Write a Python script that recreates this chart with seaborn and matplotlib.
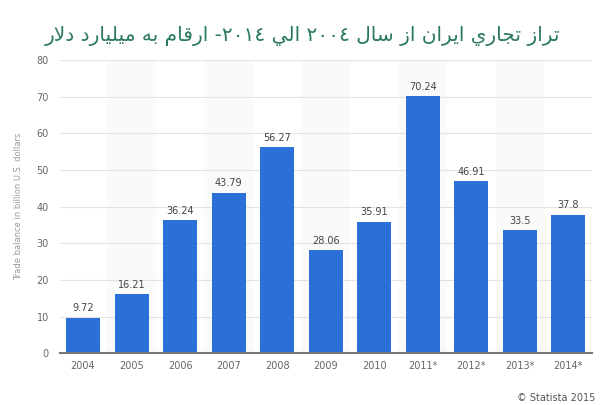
import matplotlib
matplotlib.use("Agg")
import matplotlib.pyplot as plt
import seaborn as sns
import pandas as pd

# data
years = ["2004", "2005", "2006", "2007", "2008", "2009", "2010",
         "2011*", "2012*", "2013*", "2014*"]
balance = [9.72, 16.21, 36.24, 43.79, 56.27, 28.06, 35.91,
           70.24, 46.91, 33.5, 37.8]
value_labels = ["9.72", "16.21", "36.24", "43.79", "56.27", "28.06", "35.91",
                "70.24", "46.91", "33.5", "37.8"]
y_ticks = [0, 10, 20, 30, 40, 50, 60, 70, 80]

title = "تراز تجاري ايران از سال ٢٠٠٤ الي ٢٠١٤- ارقام به ميليارد دلار"
y_label = "Trade balance in billion U.S. dollars"
source = "© Statista 2015"

# simple arabic shaping (matplotlib does no shaping / bidi)
# letter: (isolated, final, initial, medial)
FORMS = {
    "ا": ("\uFE8D", "\uFE8E", None, None),
    "ب": ("\uFE8F", "\uFE90", "\uFE91", "\uFE92"),
    "ت": ("\uFE95", "\uFE96", "\uFE97", "\uFE98"),
    "ج": ("\uFE9D", "\uFE9E", "\uFE9F", "\uFEA0"),
    "د": ("\uFEA9", "\uFEAA", None, None),
    "ر": ("\uFEAD", "\uFEAE", None, None),
    "ز": ("\uFEAF", "\uFEB0", None, None),
    "س": ("\uFEB1", "\uFEB2", "\uFEB3", "\uFEB4"),
    "ق": ("\uFED5", "\uFED6", "\uFED7", "\uFED8"),
    "ل": ("\uFEDD", "\uFEDE", "\uFEDF", "\uFEE0"),
    "م": ("\uFEE1", "\uFEE2", "\uFEE3", "\uFEE4"),
    "ن": ("\uFEE5", "\uFEE6", "\uFEE7", "\uFEE8"),
    "ه": ("\uFEE9", "\uFEEA", "\uFEEB", "\uFEEC"),
    "ي": ("\uFEF1", "\uFEF2", "\uFEF3", "\uFEF4"),
}


def shape_word(w):
    # lam-alef ligature
    chars = []
    i = 0
    while i < len(w):
        if w[i] == "ل" and i + 1 < len(w) and w[i + 1] == "ا":
            chars.append("LA")
            i += 2
        else:
            chars.append(w[i])
            i += 1

    def joins_left(c):
        if c == "LA":
            return False
        return c in FORMS and FORMS[c][2] is not None

    out = []
    for k, c in enumerate(chars):
        prev_joins = k > 0 and joins_left(chars[k - 1])
        if c == "LA":
            out.append("\uFEFC" if prev_joins else "\uFEFB")
            continue
        if c not in FORMS:
            out.append(c)
            continue
        iso, fin, ini, med = FORMS[c]
        next_ok = k + 1 < len(chars) and (chars[k + 1] in FORMS or chars[k + 1] == "LA")
        can_left = ini is not None and next_ok
        if prev_joins and can_left:
            out.append(med)
        elif prev_joins:
            out.append(fin)
        elif can_left:
            out.append(ini)
        else:
            out.append(iso)
    return "".join(out)


def rtl(text):
    vis = []
    for tok in text.split(" "):
        if tok[0] in "٠١٢٣٤٥٦٧٨٩":
            if tok.endswith("-"):
                tok = "-" + tok[:-1]
            vis.append(tok)
        else:
            vis.append(shape_word(tok)[::-1])
    return " ".join(vis[::-1])


df = pd.DataFrame({"year": years, "balance": balance})

sns.set_style("white")
plt.rcParams["font.family"] = ["DejaVu Sans"]

fig = plt.figure(figsize=(6, 4.05), dpi=100)
ax = fig.add_axes([0.1, 0.128, 0.887, 0.724])

# faint alternating column shading
for i in range(1, len(years), 2):
    ax.axvspan(i - 0.5, i + 0.5, color="#fafafa", zorder=0, lw=0)

sns.barplot(data=df, x="year", y="balance", color="#2a70d6",
            saturation=1, width=0.7, linewidth=0, ax=ax, zorder=3)

for i, (v, lab) in enumerate(zip(balance, value_labels)):
    ax.annotate(lab, (i, v), xytext=(0, 3), textcoords="offset points",
                ha="center", va="bottom", fontsize=7, color="#444444")

ax.set_xlim(-0.475, len(years) - 0.51)
ax.set_ylim(0, 80)
ax.set_yticks(y_ticks)
ax.yaxis.grid(True, color="#e3e3e3", lw=0.8, zorder=1)
ax.set_axisbelow(True)
for s in ["top", "right", "left"]:
    ax.spines[s].set_visible(False)
ax.spines["bottom"].set_color("#777777")
ax.spines["bottom"].set_linewidth(1.5)
ax.spines["bottom"].set_zorder(5)
ax.tick_params(axis="both", length=0, labelsize=7, labelcolor="#666666")
ax.tick_params(axis="x", pad=6)
ax.tick_params(axis="y", pad=8)
ax.set_xlabel("")
ax.set_ylabel(y_label, fontsize=6, color="#999999", labelpad=10)

fig.text(0.505, 0.912, rtl(title), ha="center", va="center",
         fontsize=14.5, color="#2b7a5c")
fig.text(0.992, 0.018, source, ha="right", va="center",
         fontsize=7, color="#555555")

fig.savefig("out.png", dpi=100)
